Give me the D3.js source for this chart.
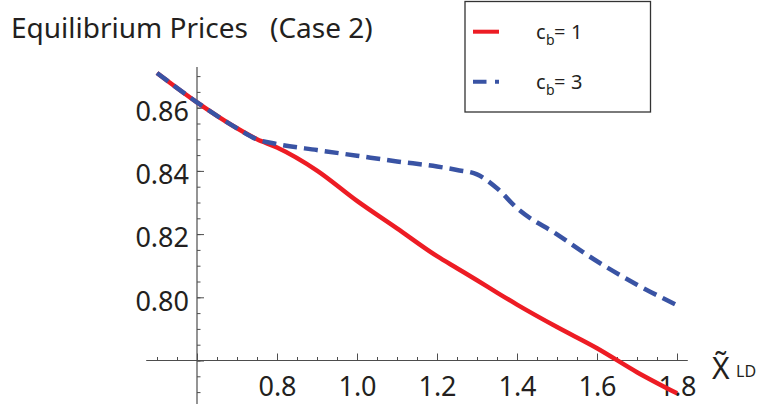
<!DOCTYPE html>
<html>
<head>
<meta charset="utf-8">
<script src="https://cdn.jsdelivr.net/npm/d3@7"></script>
<style>
  body { margin: 0; background: white; }
  svg { display: block; font-family: "Noto Sans", sans-serif; }
</style>
</head>
<body>
<svg id="chart" width="762" height="404"></svg>
<script>
// values
var xValues   = [0.5, 0.6, 0.7, 0.75, 0.8, 0.9, 1.0, 1.1, 1.2, 1.25, 1.3, 1.35, 1.4, 1.5, 1.6, 1.7, 1.8];
var priceCb1  = [0.8710, 0.8617, 0.8535, 0.8500, 0.8474, 0.8401, 0.8305, 0.8218, 0.8130, 0.8092, 0.8054, 0.8015, 0.7977, 0.7906, 0.7839, 0.7763, 0.7696];
var priceCb3  = [0.8710, 0.8617, 0.8535, 0.8500, 0.8485, 0.8466, 0.8448, 0.8430, 0.8414, 0.8403, 0.8389, 0.8345, 0.8282, 0.8199, 0.8114, 0.8040, 0.7975];
var xTicks    = [0.8, 1.0, 1.2, 1.4, 1.6, 1.8];
var yTicks    = [0.80, 0.82, 0.84, 0.86];
var seriesNames = ["1", "3"];

var RED = "#ed1c24", BLUE = "#3953a4", INK = "#231f20", AXIS = "#4d4d4d";

var svg = d3.select("#chart");

var x = d3.scaleLinear().domain([0.6, 1.8]).range([197, 677]);
var y = d3.scaleLinear().domain([0.78, 0.86]).range([360.5, 107.7]);

// axis lines (they cross at x = 0.6, y = 0.78)
svg.append("line")
    .attr("x1", x(0.473)).attr("x2", x(1.827))
    .attr("y1", y(0.78)).attr("y2", y(0.78))
    .attr("stroke", AXIS).attr("stroke-width", 1.2);
svg.append("line")
    .attr("x1", x(0.6)).attr("x2", x(0.6))
    .attr("y1", y(0.8729)).attr("y2", 404)
    .attr("stroke", AXIS).attr("stroke-width", 1.2);

var minorX = d3.range(10, 37).map(function(d){ return d * 0.05; });
var majorX = [0.6].concat(xTicks);
var minorY = d3.range(154, 175).map(function(d){ return d * 0.005; });
var majorY = [0.78].concat(yTicks);

var xAxisMinor = d3.axisBottom(x).tickValues(minorX).tickSizeInner(-3.5).tickSizeOuter(0).tickFormat("");
var xAxisMajor = d3.axisBottom(x).tickValues(majorX).tickSizeInner(-7).tickSizeOuter(0).tickPadding(16)
    .tickFormat(function(d){ return d < 0.7 ? "" : d3.format(".1f")(d); });
var yAxisMinor = d3.axisLeft(y).tickValues(minorY).tickSizeInner(-3.5).tickSizeOuter(0).tickFormat("");
var yAxisMajor = d3.axisLeft(y).tickValues(majorY).tickSizeInner(-7).tickSizeOuter(0).tickPadding(8)
    .tickFormat(function(d){ return d < 0.79 ? "" : d3.format(".2f")(d); });

function styleAxis(g) {
    g.select(".domain").remove();
    g.selectAll(".tick line").attr("stroke", AXIS).attr("stroke-width", 1);
    g.selectAll(".tick text")
        .attr("fill", INK)
        .attr("font-family", "Noto Sans, sans-serif")
        .attr("font-size", 27);
}

svg.append("g").attr("transform", "translate(0," + y(0.78) + ")").call(xAxisMinor).call(styleAxis);
svg.append("g").attr("transform", "translate(0," + y(0.78) + ")").call(xAxisMajor).call(styleAxis);
svg.append("g").attr("transform", "translate(" + x(0.6) + ",0)").call(yAxisMinor).call(styleAxis);
svg.append("g").attr("transform", "translate(" + x(0.6) + ",0)").call(yAxisMajor).call(styleAxis)
    .selectAll(".tick text").attr("dy", "0.47em");

// curves
var line = d3.line()
    .x(function(d){ return x(d[0]); })
    .y(function(d){ return y(d[1]); })
    .curve(d3.curveMonotoneX);

svg.append("path")
    .datum(d3.zip(xValues, priceCb1))
    .attr("d", line)
    .attr("fill", "none")
    .attr("stroke", RED)
    .attr("stroke-width", 4.5);

svg.append("path")
    .datum(d3.zip(xValues, priceCb3))
    .attr("d", line)
    .attr("fill", "none")
    .attr("stroke", BLUE)
    .attr("stroke-width", 4.5)
    .attr("stroke-dasharray", "14,7");

// title
svg.append("text")
    .attr("x", 11).attr("y", 38)
    .attr("fill", INK).attr("font-size", 28)
    .text("Equilibrium Prices");
svg.append("text")
    .attr("x", 270).attr("y", 38)
    .attr("fill", INK).attr("font-size", 28)
    .text("(Case 2)");

// x axis label: X tilde (combining accent) with LD subscript
var xLabel = svg.append("text")
    .attr("x", 712).attr("y", 379)
    .attr("fill", INK).attr("font-size", 30);
xLabel.append("tspan").text("X\u0303");
xLabel.append("tspan").attr("x", 736).attr("y", 377).attr("font-size", 16).text("LD");

// legend
var legend = svg.append("g");
legend.append("rect")
    .attr("x", 465).attr("y", 1.5)
    .attr("width", 185.5).attr("height", 110.5)
    .attr("fill", "white")
    .attr("stroke", "#333")
    .attr("stroke-width", 1.3);

var entry = legend.selectAll(".legend-entry").data(seriesNames)
    .enter().append("g")
    .classed("legend-entry", true)
    .attr("transform", function(d, i){ return "translate(0," + (i * 50) + ")"; });

entry.append("line")
    .attr("x1", 473).attr("x2", 499)
    .attr("y1", 31.7).attr("y2", 31.7)
    .attr("stroke", function(d, i){ return i ? BLUE : RED; })
    .attr("stroke-width", 4)
    .attr("stroke-dasharray", function(d, i){ return i ? "13.5,8.5,4,20" : null; });

var label = entry.append("text")
    .attr("y", 38.5)
    .attr("fill", INK)
    .attr("font-size", 20);
label.append("tspan").attr("x", 536).text("c");
label.append("tspan").attr("x", 546).attr("dy", 6).attr("font-size", 14).text("b");
label.append("tspan").attr("x", 554).attr("dy", -6).text("=");
label.append("tspan").attr("x", 571).text(function(d){ return d; });
</script>
</body>
</html>
